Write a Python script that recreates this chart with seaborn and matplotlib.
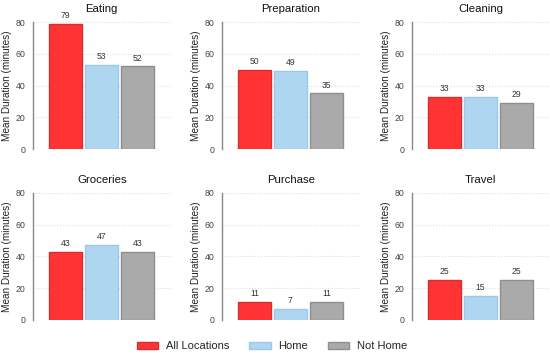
import pandas as pd
import matplotlib
matplotlib.use('Agg')
import matplotlib.pyplot as plt
import seaborn as sns
from matplotlib.patches import Patch

activities = ['Eating', 'Preparation', 'Cleaning', 'Groceries', 'Purchase', 'Travel']
locations = ['All Locations', 'Home', 'Not Home']
all_locations = [79, 50, 33, 43, 11, 25]
home = [53, 49, 33, 47, 7, 15]
not_home = [52, 35, 29, 43, 11, 25]

colors = {'All Locations': '#ff3333', 'Home': '#aed6f1', 'Not Home': '#aaaaaa'}
edges = {'All Locations': '#d32f2f', 'Home': '#9cc8ea', 'Not Home': '#8e8e8e'}

rows = []
for i, act in enumerate(activities):
    rows.append((act, 'All Locations', all_locations[i]))
    rows.append((act, 'Home', home[i]))
    rows.append((act, 'Not Home', not_home[i]))
df = pd.DataFrame(rows, columns=['Activity', 'Location', 'Duration'])

sns.set_style('white')
plt.rcParams['font.family'] = ['Liberation Sans', 'DejaVu Sans']

fig = plt.figure(figsize=(5.5, 3.55), dpi=100)
lefts = [0.06, 0.4036, 0.749]
bottoms = [0.580, 0.099]
w, h = 0.25, 0.358

for i, act in enumerate(activities):
    ax = fig.add_axes([lefts[i % 3], bottoms[i // 3], w, h])
    sub = df[df['Activity'] == act]
    sns.barplot(data=sub, x='Location', y='Duration', hue='Location', order=locations,
                hue_order=locations, palette=colors, width=0.93, linewidth=1,
                legend=False, ax=ax, saturation=1)
    for bar, loc in zip(ax.patches, locations):
        bar.set_edgecolor(edges[loc])
    for bar in ax.patches:
        ax.text(bar.get_x() + bar.get_width() / 2, bar.get_height() + 2.5,
                str(int(bar.get_height())), ha='center', va='bottom',
                fontsize=6.2, color='#333333', clip_on=False)
    ax.set_ylim(0, 80)
    ax.set_xlim(-0.9, 2.92)
    ax.set_yticks([0, 20, 40, 60, 80])
    ax.set_xticks([])
    ax.set_xlabel('')
    ax.set_ylabel('Mean Duration (minutes)', fontsize=7.2, color='#222222', labelpad=3)
    ax.set_title(act, fontsize=8.2, color='#111111', pad=7)
    ax.tick_params(axis='y', labelsize=6.3, colors='#444444', length=3, width=0.8, pad=2.2)
    ax.yaxis.grid(True, linestyle=':', color='#dddddd', linewidth=0.8)
    ax.set_axisbelow(True)
    for s in ['top', 'right', 'bottom']:
        ax.spines[s].set_visible(False)
    ax.spines['left'].set_color('#888888')
    ax.spines['left'].set_linewidth(1)

handles = [Patch(facecolor=colors[l], edgecolor=edges[l], label=l) for l in locations]
fig.legend(handles=handles, loc='center', ncol=3, bbox_to_anchor=(0.495, 0.024),
           frameon=False, fontsize=8, handlelength=1.9, handleheight=0.6,
           columnspacing=1.8, handletextpad=0.7, borderpad=0)

fig.savefig('out.png', dpi=100)
